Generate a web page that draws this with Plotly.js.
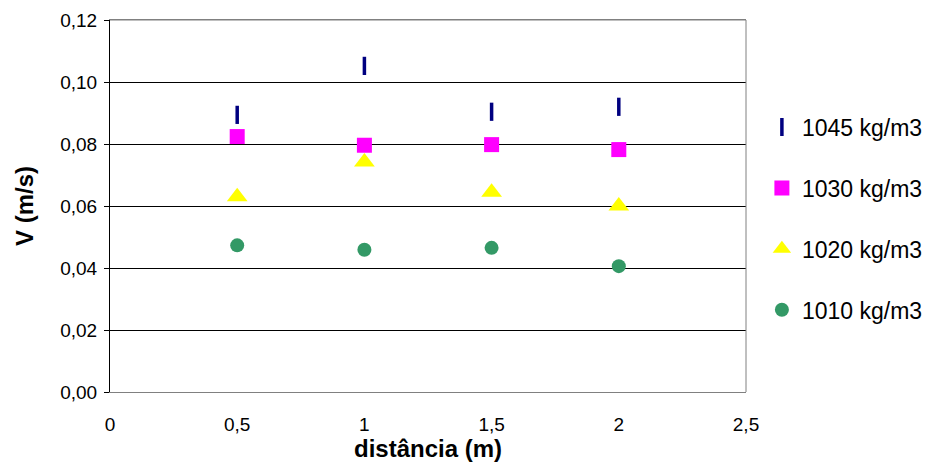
<!DOCTYPE html>
<html>
<head>
<meta charset="utf-8">
<script src="https://cdn.plot.ly/plotly-3.0.1.min.js"></script>
<style>html,body{margin:0;padding:0;background:#fff;}#chart{width:942px;height:464px;}</style>
</head>
<body>
<div id="chart"></div>
<script>
const distancia = [0.5, 1, 1.5, 2];
const v1045 = [0.0894, 0.1052, 0.0904, 0.0920];
const v1030 = [0.0824, 0.0796, 0.0798, 0.0782];
const v1020 = [0.0630, 0.0742, 0.0644, 0.0600];
const v1010 = [0.0473, 0.0459, 0.0465, 0.0406];
const seriesNames = ['1045 kg/m3', '1030 kg/m3', '1020 kg/m3', '1010 kg/m3'];

const traces = [
  {x: distancia, y: v1045, name: seriesNames[0], mode: 'markers', type: 'scatter', legendgroup: 'a',
   marker: {symbol: 'line-ns', size: 13, color: '#000080', line: {color: '#000080', width: 3.5}}},
  {x: distancia, y: v1030, name: seriesNames[1], mode: 'markers', type: 'scatter', legendgroup: 'b',
   marker: {symbol: 'square', size: 15, color: '#FF00FF'}},
  {x: distancia, y: v1020, name: seriesNames[2], mode: 'markers', type: 'scatter', legendgroup: 'c',
   marker: {symbol: 'triangle-up', size: 18, color: '#FFFF00'}},
  {x: distancia, y: v1010, name: seriesNames[3], mode: 'markers', type: 'scatter', legendgroup: 'd',
   marker: {symbol: 'circle', size: 14, color: '#339966'}}
];

const layout = {
  width: 942, height: 464,
  margin: {l: 110, r: 196, t: 20, b: 72},
  paper_bgcolor: '#fff', plot_bgcolor: '#fff',
  separators: ',.',
  font: {family: 'Arial, "Liberation Sans", sans-serif', color: '#000'},
  xaxis: {
    range: [0, 2.5], dtick: 0.5, tick0: 0, showgrid: false, zeroline: false,
    showline: true, linecolor: '#808080', linewidth: 1, mirror: true,
    ticks: '', tickfont: {size: 19}, ticklabelstandoff: 15,
    title: {text: 'distância (m)', font: {size: 24, weight: 'bold'}, standoff: 4}
  },
  yaxis: {
    range: [0, 0.12], dtick: 0.02, tick0: 0, tickformat: '.2f',
    showgrid: true, gridcolor: '#000', gridwidth: 1, zeroline: false,
    showline: true, linecolor: '#000', linewidth: 1, mirror: false,
    ticks: 'outside', ticklen: 5, tickcolor: '#000', tickfont: {size: 19},
    ticklabelstandoff: 3,
    title: {text: 'V (m/s)', font: {size: 24, weight: 'bold'}, standoff: 19}
  },
  shapes: [
    {type: 'line', xref: 'paper', yref: 'paper', x0: 1, x1: 1, y0: 0, y1: 1, line: {color: '#808080', width: 1}},
    {type: 'line', xref: 'paper', yref: 'paper', x0: 0, x1: 1, y0: 1, y1: 1, line: {color: '#808080', width: 1}}
  ],
  showlegend: true,
  legend: {
    x: 1.025, y: 0.77, xanchor: 'left', yanchor: 'top',
    traceorder: 'grouped', tracegroupgap: 28,
    font: {size: 23}, itemwidth: 30, bgcolor: 'rgba(0,0,0,0)'
  }
};

Plotly.newPlot('chart', traces, layout, {displayModeBar: false, staticPlot: true});
</script>
</body>
</html>
